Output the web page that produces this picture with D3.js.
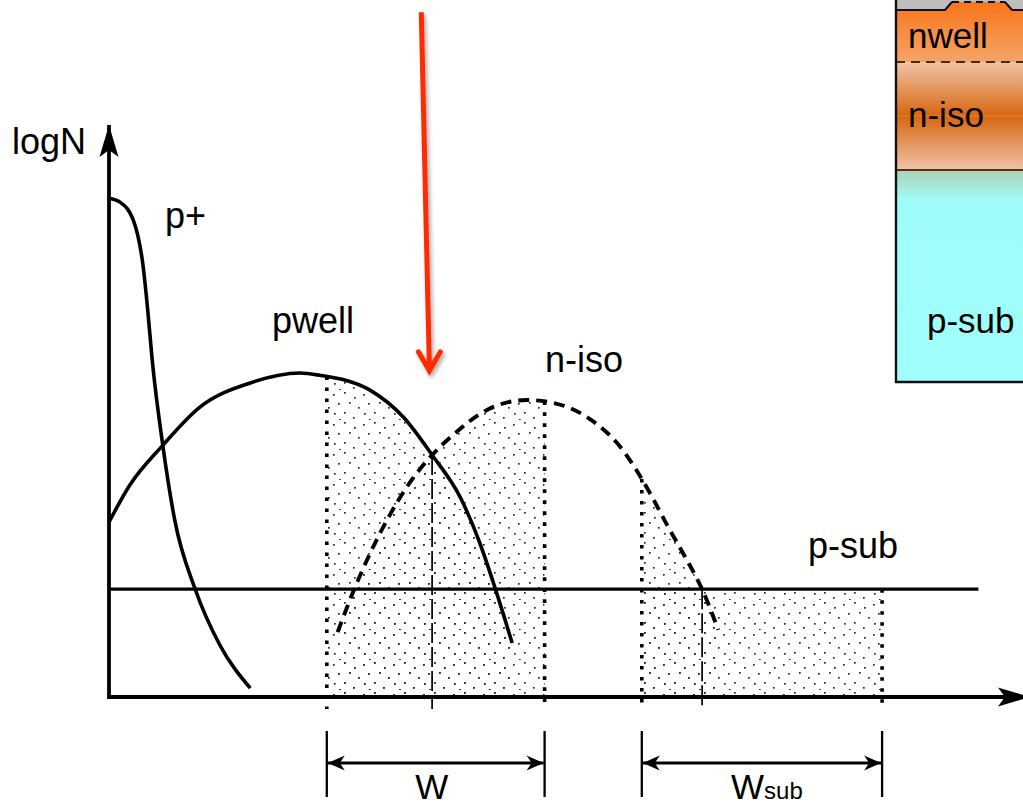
<!DOCTYPE html>
<html>
<head>
<meta charset="utf-8">
<script src="https://cdn.jsdelivr.net/npm/d3@7"></script>
<style>
  html, body { margin: 0; padding: 0; background: #fff; overflow: hidden; }
  text { font-family: "Liberation Sans", Arial, Helvetica, sans-serif; fill: #000; }
</style>
</head>
<body>
<svg id="chart" width="1023" height="807"></svg>
<script>
// Doping profiles: depth (arbitrary units) vs. log concentration (arbitrary units)
const pPlusDepth = [0, 1.2, 2.7, 3.8, 4.3, 4.8, 6.0, 7.3, 9.6, 12.3, 15.7];
const pPlusLogN  = [90.7, 90.0, 86.7, 78.2, 70.4, 61.3, 45.5, 32.2, 19.5, 9.5, 1.6];

const pwellDepth = [0, 2.3, 6.0, 10.1, 15.7, 21.2, 23.4, 29.0, 32.7, 35.9, 39.0, 41.2, 42.9, 44.8];
const pwellLogN  = [31.8, 38.5, 45.8, 52.7, 57.1, 58.9, 58.5, 55.8, 50.9, 44.0, 36.4, 28.0, 19.8, 9.8];

const nisoDepth = [25.4, 27.3, 30.9, 33.1, 35.9, 38.2, 42.0, 46.4, 49.3, 53.1, 56.8, 60.1, 62.0, 64.0, 65.9, 67.7];
const nisoLogN  = [11.8, 19.8, 32.2, 38.2, 44.0, 47.6, 52.2, 54.0, 53.5, 50.9, 45.5, 37.1, 31.3, 25.5, 19.6, 12.2];

const psubLogN = 19.6;
const psubDepthEnd = 96.6;

// Metallurgical junctions and depletion widths
const junctionDepths = [35.9, 65.9];
const wBounds = [24.2, 48.4];
const wsubBounds = [59.2, 85.9];

// Text
const axisLabel = "logN";
const curveLabels = ["p+", "pwell", "n-iso", "p-sub"];
const widthLabels = ["W", "W", "sub"];
const layerLabels = ["nwell", "n-iso", "p-sub"];

// Incoming light marker (depth, logN)
const lightFrom = [34.7, 124.5];
const lightTo   = [35.6, 59.3];

const svg = d3.select("#chart");
const x = d3.scaleLinear().domain([0, 100]).range([109, 1009]);
const y = d3.scaleLinear().domain([0, 100]).range([697, 147]);
const zip = (xs, ys) => xs.map((d, i) => [d, ys[i]]);

const defs = svg.append("defs");

// stipple fill
const pat = defs.append("pattern").attr("id", "stipple")
  .attr("patternUnits", "userSpaceOnUse").attr("width", 30).attr("height", 30);
[[3,4],[14,2],[24,7],[8,13],[19,12],[28,17],[4,23],[14,22],[23,27],[9,29]].forEach(([a, b]) =>
  pat.append("rect").attr("x", a).attr("y", b).attr("width", 1.7).attr("height", 1.7).attr("fill", "#2a2a2a"));

// arrow heads
defs.append("marker").attr("id", "axisHead")
  .attr("markerUnits", "userSpaceOnUse").attr("viewBox", "-34 -11 36 22")
  .attr("refX", 0).attr("refY", 0).attr("markerWidth", 36).attr("markerHeight", 22)
  .attr("orient", "auto")
  .append("path").attr("d", "M0,0 L-32,-9.5 L-25,0 L-32,9.5 Z").attr("fill", "#000");

defs.append("marker").attr("id", "dimHead")
  .attr("markerUnits", "userSpaceOnUse").attr("viewBox", "-18 -9 20 18")
  .attr("refX", 0).attr("refY", 0).attr("markerWidth", 20).attr("markerHeight", 18)
  .attr("orient", "auto-start-reverse")
  .append("path").attr("d", "M0,0 L-17,-7.5 L-12,0 L-17,7.5 Z").attr("fill", "#000");

// soft shadow for the light marker
const shadow = defs.append("filter").attr("id", "shadow")
  .attr("x", "-50%").attr("y", "-10%").attr("width", "200%").attr("height", "120%");
shadow.append("feGaussianBlur").attr("in", "SourceAlpha").attr("stdDeviation", 2).attr("result", "b");
shadow.append("feOffset").attr("in", "b").attr("dx", 2).attr("dy", 3).attr("result", "o");
shadow.append("feComponentTransfer").attr("in", "o").attr("result", "s")
  .append("feFuncA").attr("type", "linear").attr("slope", 0.35);
const fm = shadow.append("feMerge");
fm.append("feMergeNode").attr("in", "s");
fm.append("feMergeNode").attr("in", "SourceGraphic");

const line = d3.line().x(d => x(d[0])).y(d => y(d[1])).curve(d3.curveMonotoneX);
const area = d3.area().x(d => x(d[0])).y0(y(0)).y1(d => y(d[1])).curve(d3.curveMonotoneX);

const pPlus = zip(pPlusDepth, pPlusLogN);
const pwell = zip(pwellDepth, pwellLogN);
const niso = zip(nisoDepth, nisoLogN);
const psub = [[0, psubLogN], [psubDepthEnd, psubLogN]];

// ---- stippled depletion regions ----
function stippleRegion(id, bounds, profiles) {
  defs.append("clipPath").attr("id", id).append("rect")
    .attr("x", x(bounds[0])).attr("y", 0)
    .attr("width", x(bounds[1]) - x(bounds[0])).attr("height", y(0));
  const g = svg.append("g").attr("clip-path", `url(#${id})`);
  profiles.forEach(p => g.append("path").attr("d", area(p)).attr("fill", "url(#stipple)"));
}
stippleRegion("clipW", wBounds, [pwell, niso]);
stippleRegion("clipWsub", wsubBounds, [niso, psub]);

// ---- profile curves ----
const curves = svg.append("g").attr("fill", "none").attr("stroke", "#000");
const pPlusPath = curves.append("path").attr("d", line(pPlus)).attr("stroke-width", 3.6);
const pwellPath = curves.append("path").attr("d", line(pwell)).attr("stroke-width", 3.6);
const nisoPath = curves.append("path").attr("d", line(niso)).attr("stroke-width", 3.9)
  .attr("stroke-dasharray", "11,7");
const psubPath = curves.append("path").attr("d", d3.line().x(d => x(d[0])).y(d => y(d[1]))(psub))
  .attr("stroke-width", 3.2);

// y (pixel) of a drawn curve at a given pixel x
function yOnPath(node, px) {
  const L = node.getTotalLength();
  const a = node.getPointAtLength(0), b = node.getPointAtLength(L);
  if (px < a.x - 0.01 || px > b.x + 0.01) return Infinity;
  let lo = 0, hi = L;
  for (let i = 0; i < 40; i++) {
    const m = (lo + hi) / 2;
    if (node.getPointAtLength(m).x < px) lo = m; else hi = m;
  }
  return node.getPointAtLength((lo + hi) / 2).y;
}
const envelopeTop = px => Math.min(...[pwellPath, nisoPath, psubPath].map(p => yOnPath(p.node(), px)));

// ---- region edges (dotted) and junctions (dashed) ----
const marks = svg.append("g").attr("fill", "none").attr("stroke", "#000");
[...wBounds, ...wsubBounds].forEach(d => {
  const px = x(d);
  marks.append("line").attr("x1", px).attr("x2", px)
    .attr("y1", envelopeTop(px)).attr("y2", y(0) + 12)
    .attr("stroke-width", 3.6).attr("stroke-dasharray", "3.6,7.4");
});
junctionDepths.forEach(d => {
  const px = x(d);
  marks.append("line").attr("x1", px).attr("x2", px)
    .attr("y1", envelopeTop(px)).attr("y2", y(0) + 12)
    .attr("stroke-width", 1.7).attr("stroke-dasharray", "20,4");
});

// ---- axes ----
const axes = svg.append("g").attr("stroke", "#000").attr("stroke-width", 3.8).attr("fill", "none");
axes.append("line").attr("x1", x(0)).attr("y1", y(0) + 1.9).attr("x2", x(0)).attr("y2", 125)
  .attr("marker-end", "url(#axisHead)");
axes.append("line").attr("x1", x(0)).attr("y1", y(0)).attr("x2", 1030).attr("y2", y(0))
  .attr("marker-end", "url(#axisHead)");

// ---- dimension arrows ----
const dims = svg.append("g").attr("stroke", "#000").attr("fill", "none");
[wBounds, wsubBounds].forEach(b => {
  b.forEach(d => dims.append("line").attr("x1", x(d)).attr("x2", x(d))
    .attr("y1", y(0) + 34).attr("y2", y(0) + 100).attr("stroke-width", 2.3));
  dims.append("line").attr("x1", x(b[0]) + 1).attr("x2", x(b[1]) - 1)
    .attr("y1", y(0) + 66).attr("y2", y(0) + 66).attr("stroke-width", 2.8)
    .attr("marker-start", "url(#dimHead)").attr("marker-end", "url(#dimHead)");
});

// ---- text ----
svg.append("text").attr("x", 12).attr("y", 154).attr("font-size", 36).text(axisLabel);
const labelPos = [[165, 228], [272, 333], [545, 372], [808, 558]];
curveLabels.forEach((t, i) => svg.append("text")
  .attr("x", labelPos[i][0]).attr("y", labelPos[i][1]).attr("font-size", 36).text(t));

svg.append("text").attr("x", (x(wBounds[0]) + x(wBounds[1])) / 2 - 4).attr("y", 799)
  .attr("text-anchor", "middle").attr("font-size", 35).text(widthLabels[0]);
const wsub = svg.append("text").attr("x", (x(wsubBounds[0]) + x(wsubBounds[1])) / 2 + 5).attr("y", 799)
  .attr("text-anchor", "middle").attr("font-size", 35);
wsub.append("tspan").text(widthLabels[1]);
wsub.append("tspan").attr("font-size", 24).text(widthLabels[2]);

// ---- incoming light arrow ----
const light = svg.append("g").attr("filter", "url(#shadow)")
  .attr("stroke", "#ff2a00").attr("fill", "none").attr("stroke-width", 5);
light.append("line")
  .attr("x1", x(lightFrom[0])).attr("y1", y(lightFrom[1]))
  .attr("x2", x(lightTo[0])).attr("y2", y(lightTo[1]) - 3);
light.append("polyline")
  .attr("points", [[x(lightTo[0]) - 11, y(lightTo[1]) - 19], [x(lightTo[0]), y(lightTo[1])], [x(lightTo[0]) + 11, y(lightTo[1]) - 19]].map(p => p.join(",")).join(" "))
  .attr("stroke-linecap", "round").attr("stroke-linejoin", "miter");

// ---- cross-section inset ----
const inset = svg.append("g");
const bx = 896, bRight = 1040, bBottom = 382;
function vGrad(id, stops) {
  const g = defs.append("linearGradient").attr("id", id).attr("x1", 0).attr("y1", 0).attr("x2", 0).attr("y2", 1);
  stops.forEach(([o, c]) => g.append("stop").attr("offset", o).attr("stop-color", c));
}
vGrad("gNwell", [[0, "#f8751a"], [1, "#f5a468"]]);
vGrad("gNiso", [[0, "#efc4a6"], [0.5, "#d8660f"], [1, "#efc4a8"]]);
vGrad("gPsub", [[0, "#a8d2b4"], [0.14, "#a0fcf8"], [1, "#a0fffc"]]);

inset.append("rect").attr("x", bx).attr("y", 170).attr("width", bRight - bx).attr("height", bBottom - 170).attr("fill", "url(#gPsub)");
inset.append("rect").attr("x", bx).attr("y", 62).attr("width", bRight - bx).attr("height", 108).attr("fill", "url(#gNiso)");
inset.append("path").attr("d", `M${bx},10 L945,10 L952,2 L1005,2 L1012,10 L${bRight},10 L${bRight},62 L${bx},62 Z`).attr("fill", "url(#gNwell)");
inset.append("path").attr("d", `M${bx},-5 L${bRight},-5 L${bRight},10 L1012,10 L1005,2 L952,2 L945,10 L${bx},10 Z`).attr("fill", "#bebebe");
inset.append("line").attr("x1", bx).attr("x2", bRight).attr("y1", 116).attr("y2", 116).attr("stroke", "#e8924c").attr("stroke-width", 1).attr("opacity", 0.7);
inset.append("path").attr("d", `M${bx},10 L945,10 L952,2 M1005,2 L1012,10 L${bRight},10`).attr("fill", "none").attr("stroke", "#111").attr("stroke-width", 2);
inset.append("line").attr("x1", 952).attr("x2", 1005).attr("y1", 2).attr("y2", 2).attr("stroke", "#111").attr("stroke-width", 2).attr("stroke-dasharray", "7,5");
inset.append("line").attr("x1", bx).attr("x2", bRight).attr("y1", 62).attr("y2", 62).attr("stroke", "#4a2a12").attr("stroke-width", 2).attr("stroke-dasharray", "9,6");
inset.append("line").attr("x1", bx).attr("x2", bRight).attr("y1", 170).attr("y2", 170).attr("stroke", "#5a2c10").attr("stroke-width", 2);
inset.append("path").attr("d", `M${bx},-5 L${bx},${bBottom} L${bRight},${bBottom}`).attr("fill", "none").attr("stroke", "#111").attr("stroke-width", 2.4);
const layerPos = [[908, 48], [908, 127], [927, 333]];
layerLabels.forEach((t, i) => inset.append("text")
  .attr("x", layerPos[i][0]).attr("y", layerPos[i][1]).attr("font-size", 35).text(t));
</script>
</body>
</html>
